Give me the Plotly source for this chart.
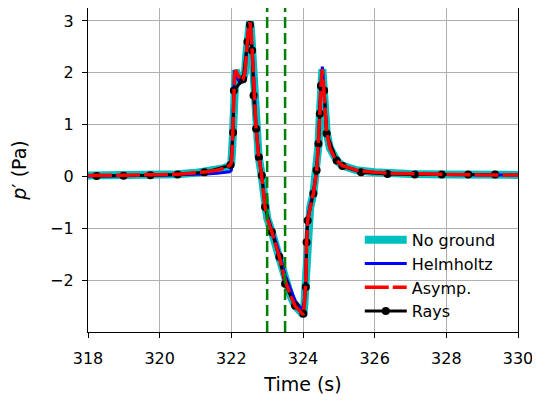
import plotly.graph_objects as go

# ---- data ----
t_wave = [318.0, 318.5, 319.0, 319.5, 320.0, 320.5, 321.0, 321.3, 321.6, 321.8, 321.95,
          322.0, 322.03, 322.06, 322.09, 322.12, 322.18, 322.25, 322.32, 322.38, 322.43,
          322.48, 322.52, 322.55, 322.6, 322.64, 322.69, 322.76, 322.84, 322.94, 323.0,
          323.13, 323.34, 323.5, 323.65, 323.78, 323.9, 324.01, 324.04, 324.08, 324.1,
          324.13, 324.2, 324.29, 324.38, 324.43, 324.47, 324.5, 324.54, 324.58, 324.62,
          324.66, 324.75, 324.85, 324.95, 325.1, 325.5, 326.0, 326.5, 327.0, 328.0,
          329.0, 330.0]

no_ground = [0.02, 0.02, 0.025, 0.03, 0.035, 0.045, 0.07, 0.09, 0.12, 0.16, 0.21,
             0.26, 0.6, 1.3, 1.95, 2.05, 1.95, 1.86, 1.87, 2.0, 2.45,
             2.88, 2.99, 2.82, 2.2, 1.55, 0.93, 0.4, 0.05, -0.57, -0.8,
             -1.07, -1.55, -2.0, -2.3, -2.5, -2.6, -2.67, -2.45, -2.0, -1.3,
             -0.85, -0.6, -0.33, 0.1, 0.6, 1.2, 1.75, 2.07, 1.7, 1.25,
             0.85, 0.55, 0.4, 0.3, 0.21, 0.12, 0.08, 0.06, 0.05, 0.04,
             0.03, 0.03]

helmholtz = [0.01, 0.01, 0.015, 0.02, 0.025, 0.03, 0.04, 0.05, 0.06, 0.07, 0.09,
             0.12, 0.7, 1.6, 2.05, 2.0, 1.88, 1.8, 1.83, 1.98, 2.45,
             2.87, 2.97, 2.8, 2.25, 1.6, 0.98, 0.45, 0.08, -0.52, -0.75,
             -1.02, -1.48, -1.9, -2.18, -2.4, -2.5, -2.58, -2.35, -1.9, -1.25,
             -0.8, -0.55, -0.3, 0.12, 0.62, 1.25, 1.8, 2.12, 1.72, 1.27,
             0.86, 0.55, 0.4, 0.3, 0.21, 0.12, 0.08, 0.06, 0.05, 0.04,
             0.03, 0.03]

asymp = [0.02, 0.02, 0.025, 0.03, 0.035, 0.045, 0.07, 0.09, 0.12, 0.16, 0.21,
         0.26, 0.6, 1.3, 1.95, 2.05, 1.95, 1.86, 1.87, 2.0, 2.45,
         2.88, 2.97, 2.8, 2.2, 1.55, 0.93, 0.4, 0.05, -0.57, -0.8,
         -1.07, -1.55, -2.0, -2.3, -2.5, -2.6, -2.67, -2.45, -2.0, -1.3,
         -0.85, -0.6, -0.33, 0.1, 0.6, 1.2, 1.75, 2.07, 1.7, 1.25,
         0.85, 0.55, 0.4, 0.3, 0.21, 0.12, 0.08, 0.06, 0.05, 0.04,
         0.03, 0.03]

t_rays = [318.24, 318.99, 319.74, 320.5, 321.25, 321.98, 322.05, 322.07, 322.33, 322.45,
          322.52, 322.58, 322.62, 322.69, 322.77, 322.85, 322.94, 323.13, 323.34, 323.5,
          323.78, 324.01, 324.08, 324.1, 324.13, 324.29, 324.38, 324.43, 324.47, 324.5,
          324.59, 324.66, 324.94, 325.1, 325.62, 326.36, 327.12, 327.87, 328.61, 329.36]
rays = [0.01, 0.015, 0.025, 0.04, 0.08, 0.22, 0.85, 1.66, 1.88, 2.6,
        2.92, 2.43, 1.56, 0.92, 0.37, 0.02, -0.59, -1.07, -1.55, -2.07,
        -2.49, -2.65, -2.13, -1.27, -0.85, -0.33, 0.12, 0.63, 1.21, 1.75,
        1.66, 0.83, 0.31, 0.2, 0.08, 0.05, 0.04, 0.04, 0.04, 0.04]

vline_times = [323.0, 323.5]

x_range = [318, 330]
y_range = [-3.0, 3.25]
x_ticks = [318, 320, 322, 324, 326, 328, 330]
y_ticks = [-2, -1, 0, 1, 2, 3]
y_ticklabels = ["\u22122", "\u22121", "0", "1", "2", "3"]

# ---- figure ----
fig = go.Figure()
fig.add_trace(go.Scatter(x=t_wave, y=no_ground, mode="lines", name="No ground",
                         line=dict(color="#00bfbf", width=8), legendrank=1))
fig.add_trace(go.Scatter(x=t_wave, y=helmholtz, mode="lines", name="Helmholtz",
                         line=dict(color="#0000ff", width=3), legendrank=2))
fig.add_trace(go.Scatter(x=t_rays, y=rays, mode="lines+markers", name="Rays",
                         line=dict(color="black", width=3),
                         marker=dict(color="black", size=8), legendrank=4))
fig.add_trace(go.Scatter(x=t_wave, y=asymp, mode="lines", name="Asymp.",
                         line=dict(color="#ff0000", width=3.5, dash="24px,4px"),
                         legendrank=3))

for xv in vline_times:
    fig.add_vline(x=xv, line=dict(color="#008000", width=2.5, dash="11px,5px"))

font = dict(family="DejaVu Sans", size=16, color="black")
# the page body has an 8px margin, so the figure is sized to fill the rest of the window
fig.update_layout(
    width=532, height=393,
    margin=dict(l=80, r=22, t=0, b=69),
    paper_bgcolor="white", plot_bgcolor="white",
    font=font,
    showlegend=True,
    legend=dict(x=0.632, y=0.01, xanchor="left", yanchor="bottom",
                bgcolor="rgba(0,0,0,0)", borderwidth=0,
                font=dict(family="DejaVu Sans", size=16, color="black"),
                tracegroupgap=0, itemwidth=42),
)
fig.update_xaxes(range=x_range, tickvals=x_ticks, ticks="outside", ticklen=5,
                 tickwidth=1.2, tickcolor="black", showline=True, linecolor="black",
                 linewidth=1.2, mirror=True, showgrid=True, gridcolor="#b0b0b0",
                 gridwidth=1.3, zeroline=False, ticklabelstandoff=7,
                 title=dict(text="Time (s)", standoff=10))
fig.update_yaxes(range=y_range, tickvals=y_ticks, ticktext=y_ticklabels,
                 ticks="outside", ticklen=5,
                 tickwidth=1.2, tickcolor="black", showline=True, linecolor="black",
                 linewidth=1.2, mirror=True, showgrid=True, gridcolor="#b0b0b0",
                 gridwidth=1.3, zeroline=False, ticklabelstandoff=5,
                 title=dict(text="<i>p</i>\u2032 (Pa)", standoff=18))

fig.write_html("out.html")
